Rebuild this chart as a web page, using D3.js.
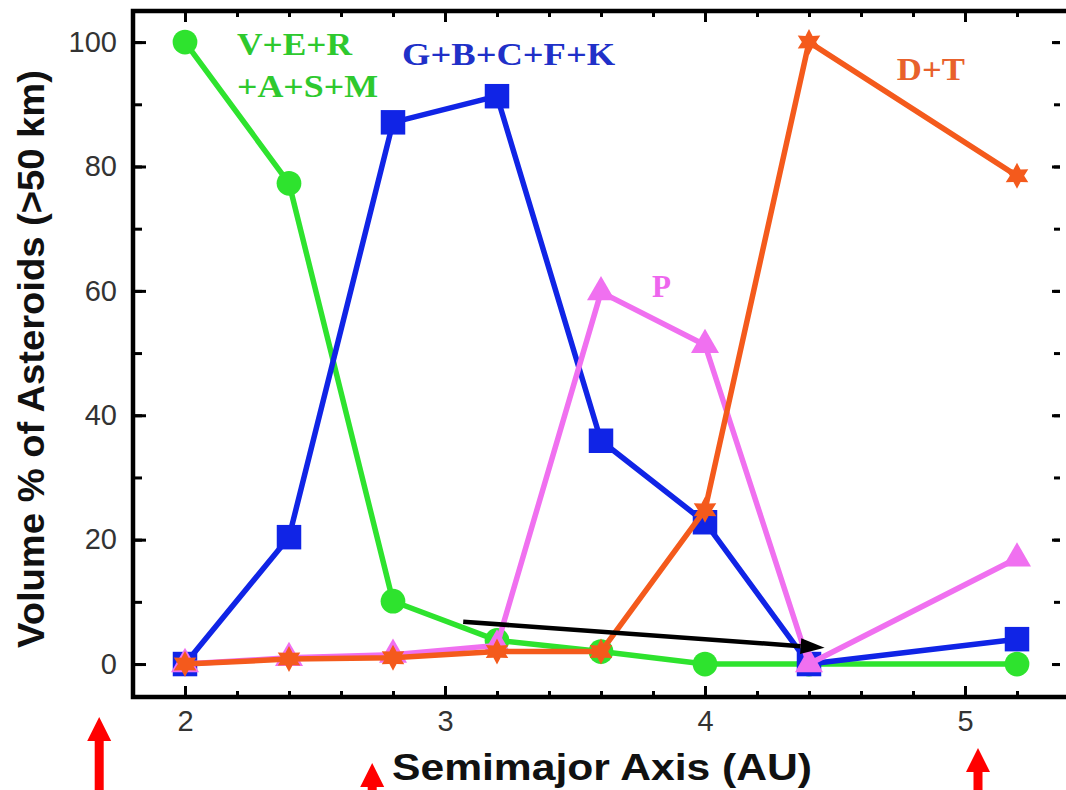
<!DOCTYPE html>
<html>
<head>
<meta charset="utf-8">
<script src="https://cdn.jsdelivr.net/npm/d3@7"></script>
<style>
  body { margin: 0; background: #fff; }
  .tick text { font-family: "Liberation Sans", Arial, sans-serif; fill: #333; }
  .domain { display: none; }
</style>
</head>
<body>
<svg id="chart"></svg>
<script>
// semimajor axis bins (AU)
var semimajor = [2.0, 2.4, 2.8, 3.2, 3.6, 4.0, 4.4, 5.2];

// volume % of asteroids (>50 km) per group
var vERASM = [100, 77.3, 10.1, 3.8, 2.0, 0, 0, 0];
var gBCFK  = [0, 20.4, 87.1, 91.3, 35.9, 22.8, 0, 4.0];
var pType  = [0, 1.0, 1.5, 3.0, 59.8, 51.3, 0, 17.0];
var dT     = [0, 0.8, 1.0, 2.0, 2.0, 24.8, 100, 78.5];

var xTicks = [2, 3, 4, 5];
var yTicks = [0, 20, 40, 60, 80, 100];

// black arrow annotation (from, to) in data units
var arrowFrom = [3.07, 6.8];
var arrowTo = [4.46, 2.6];

// red arrows under the x axis (AU)
var redArrowX = [1.67, 2.72, 5.05];
var redArrowTip = [717, 763, 748];

(function(){
  var W = 1066, H = 790;
  var margin = {top: 11, right: -3, bottom: 93, left: 133};
  var width = W - margin.left - margin.right,
      height = H - margin.top - margin.bottom;

  var x = d3.scaleLinear().domain([1.8, 5.4]).range([0, width]);
  var y = d3.scaleLinear().domain([-5.3, 105]).range([height, 0]);

  var svg = d3.select("#chart").attr("width", W).attr("height", H);

  var g = svg.append("g")
    .attr("transform", "translate(" + margin.left + "," + margin.top + ")");

  // minor ticks
  var xMinor = d3.range(1.8, 5.41, 0.2);
  var yMinor = d3.range(0, 101, 10);
  var rightX = width - 9;

  function ticks(sel, axis) { sel.call(axis); sel.selectAll("line").attr("stroke", "#000").attr("stroke-width", 3); }

  g.append("g").attr("transform", "translate(0," + height + ")")
    .call(ticks, d3.axisBottom(x).tickValues(xMinor).tickSize(-6).tickFormat(""));
  g.append("g")
    .call(ticks, d3.axisTop(x).tickValues(xMinor).tickSize(-6).tickFormat(""));
  g.append("g")
    .call(ticks, d3.axisLeft(y).tickValues(yMinor).tickSize(-9).tickFormat(""));
  g.append("g").attr("transform", "translate(" + rightX + ",0)")
    .call(ticks, d3.axisRight(y).tickValues(yMinor).tickSize(-6).tickFormat(""));

  var xas = g.append("g").attr("transform", "translate(0," + height + ")");
  xas.call(ticks, d3.axisBottom(x).tickValues(xTicks).tickSize(-11).tickPadding(13).tickFormat(d3.format("d")));
  g.append("g").call(ticks, d3.axisTop(x).tickValues(xTicks).tickSize(-11).tickFormat(""));

  var yas = g.append("g");
  yas.call(ticks, d3.axisLeft(y).tickValues(yTicks).tickSize(-13).tickPadding(16));
  g.append("g").attr("transform", "translate(" + rightX + ",0)")
    .call(ticks, d3.axisRight(y).tickValues(yTicks).tickSize(-8).tickFormat(""));

  g.selectAll(".tick text").style("font-size", "29px");

  // frame: left, top, bottom (right edge falls outside the picture)
  g.append("path")
    .attr("d", "M" + (W - margin.left) + ",0 H0 V" + height + " H" + (W - margin.left))
    .attr("fill", "none").attr("stroke", "#000").attr("stroke-width", 4.5);

  // six-pointed star
  var star6 = {
    draw: function(ctx, size) {
      var r = Math.sqrt(size) * 0.62, ri = r * 0.55;
      for (var i = 0; i < 12; i++) {
        var a = Math.PI / 6 * i - Math.PI / 2, rr = i % 2 ? ri : r;
        if (i) ctx.lineTo(rr * Math.cos(a), rr * Math.sin(a));
        else ctx.moveTo(rr * Math.cos(a), rr * Math.sin(a));
      }
      ctx.closePath();
    }
  };

  var series = [
    {values: vERASM, color: "#2ee32e", symbol: d3.symbolCircle, size: 480},
    {values: gBCFK,  color: "#1024e6", symbol: d3.symbolSquare, size: 600},
    {values: pType,  color: "#f070f0", symbol: d3.symbolTriangle, size: 340},
    {values: dT,     color: "#f45a1c", symbol: star6, size: 440}
  ];

  var line = d3.line()
    .x(function(d, i) { return x(semimajor[i]); })
    .y(function(d) { return y(d); });

  series.forEach(function(s) {
    g.append("path")
      .datum(s.values)
      .attr("d", line)
      .attr("fill", "none")
      .attr("stroke", s.color)
      .attr("stroke-width", 5.5)
      .attr("stroke-linejoin", "round");
    g.selectAll(null)
      .data(s.values)
      .enter().append("path")
      .attr("transform", function(d, i) { return "translate(" + x(semimajor[i]) + "," + y(d) + ")"; })
      .attr("d", d3.symbol().type(s.symbol).size(s.size))
      .attr("fill", s.color);
  });

  // black arrow
  var ax1 = x(arrowFrom[0]), ay1 = y(arrowFrom[1]),
      ax2 = x(arrowTo[0]), ay2 = y(arrowTo[1]);
  var ang = Math.atan2(ay2 - ay1, ax2 - ax1), hl = 24, hw = 8;
  var bx = ax2 - hl * Math.cos(ang), by = ay2 - hl * Math.sin(ang);
  g.append("line")
    .attr("x1", ax1).attr("y1", ay1)
    .attr("x2", bx).attr("y2", by)
    .attr("stroke", "#000").attr("stroke-width", 4.5);
  g.append("path")
    .attr("d", "M" + ax2 + "," + ay2 +
      " L" + (bx - hw * Math.sin(ang)) + "," + (by + hw * Math.cos(ang)) +
      " L" + (bx + hw * Math.sin(ang)) + "," + (by - hw * Math.cos(ang)) + " Z")
    .attr("fill", "#000");

  // series labels
  var labels = [
    {t: "V+E+R", x: 2.2, y: 97.9, len: 115, c: "#2ec92e"},
    {t: "+A+S+M", x: 2.2, y: 91.2, len: 141, c: "#2ec92e"},
    {t: "G+B+C+F+K", x: 2.835, y: 96.3, len: 213, c: "#2030c8"},
    {t: "D+T", x: 4.738, y: 93.9, len: 68, c: "#e8612c"},
    {t: "P", x: 3.796, y: 59, len: 19, c: "#ee66ee"}
  ];
  g.selectAll("text.lbl")
    .data(labels)
    .enter().append("text")
    .attr("class", "lbl")
    .attr("x", function(d) { return x(d.x); })
    .attr("y", function(d) { return y(d.y); })
    .attr("textLength", function(d) { return d.len; })
    .attr("lengthAdjust", "spacingAndGlyphs")
    .style("font-family", "'Liberation Serif', 'Times New Roman', serif")
    .style("font-weight", "bold")
    .style("font-size", "31px")
    .style("fill", function(d) { return d.c; })
    .text(function(d) { return d.t; });

  // axis titles
  svg.append("text")
    .attr("transform", "translate(44," + 359 + ") rotate(-90)")
    .attr("text-anchor", "middle")
    .attr("textLength", 578)
    .attr("lengthAdjust", "spacingAndGlyphs")
    .style("font-family", "'Liberation Sans', Arial, sans-serif")
    .style("font-weight", "bold")
    .style("font-size", "37px")
    .style("fill", "#111")
    .text("Volume % of Asteroids (>50 km)");

  svg.append("text")
    .attr("x", 602).attr("y", 780)
    .attr("text-anchor", "middle")
    .attr("textLength", 420)
    .attr("lengthAdjust", "spacingAndGlyphs")
    .style("font-family", "'Liberation Sans', Arial, sans-serif")
    .style("font-weight", "bold")
    .style("font-size", "37px")
    .style("fill", "#111")
    .text("Semimajor Axis (AU)");

  // red arrows
  redArrowX.forEach(function(v, i) {
    var cx = margin.left + x(v), tip = redArrowTip[i];
    svg.append("rect")
      .attr("x", cx - 4.5).attr("y", tip + 20)
      .attr("width", 9).attr("height", H - tip - 20)
      .attr("fill", "#ff0000");
    svg.append("path")
      .attr("d", "M" + cx + "," + tip + " L" + (cx + 12) + "," + (tip + 24) + " L" + (cx - 12) + "," + (tip + 24) + " Z")
      .attr("fill", "#ff0000");
  });
})();
</script>
</body>
</html>
